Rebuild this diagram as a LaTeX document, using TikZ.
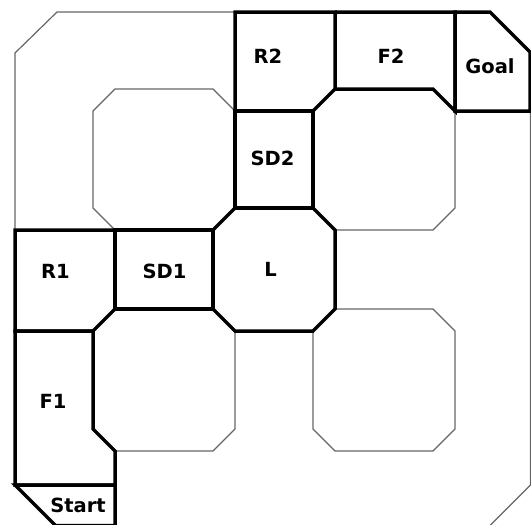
\documentclass[tikz,border=0pt]{standalone}
\usepackage{fontspec}
\setmainfont{DejaVu Sans}
\begin{document}
\begin{tikzpicture}[x=1pt,y=-1pt,
  thinwall/.style={draw=black!60,line width=1.2pt,line join=miter},
  wall/.style={draw=black,line width=3.5pt,line join=miter},
  lbl/.style={font=\fontsize{19.5}{19.5}\selectfont\bfseries,inner sep=0pt,anchor=base}]
\useasboundingbox (0,0) rectangle (531,525);
% outer boundary (thin)
\draw[thinwall] (15,230) -- (15,53) -- (57,12) -- (235,12);
\draw[thinwall] (530.5,111) -- (530.5,485) -- (488.5,527) -- (115,527);
% blocks (thin octagons)
\draw[thinwall] (93,111)--(115,89)--(213,89)--(235,111)--(235,208)--(213,230)--(115,230)--(93,208)--cycle;
\draw[thinwall] (313,111)--(335,89)--(433,89)--(455,111)--(455,208)--(433,230)--(335,230)--(313,208)--cycle;
\draw[thinwall] (93,331)--(115,309)--(213,309)--(235,331)--(235,429)--(213,451)--(115,451)--(93,429)--cycle;
\draw[thinwall] (313,331)--(335,309)--(433,309)--(455,331)--(455,429)--(433,451)--(335,451)--(313,429)--cycle;
% cells (thick)
\draw[wall] (235,12)--(335,12)--(335,89)--(313,111)--(235,111)--cycle;
\draw[wall] (335,12)--(455,12)--(455,111)--(433,89)--(335,89);
\draw[wall] (455,12)--(490,12)--(530,52)--(530,111)--(455,111)--cycle;
\draw[wall] (235,111)--(313,111)--(313,208)--(235,208)--cycle;
\draw[wall] (235,208)--(313,208)--(335,230)--(335,309)--(313,331)--(235,331)--(213,309)--(213,230)--cycle;
\draw[wall] (115,230)--(213,230)--(213,309)--(115,309)--cycle;
\draw[wall] (15,230)--(115,230)--(115,309)--(93,331)--(15,331)--cycle;
\draw[wall] (15,331)--(93,331)--(93,429)--(115,451)--(115,485)--(15,485)--cycle;
\draw[wall] (15,485)--(115,485)--(115,525.5)--(55.5,525.5)--cycle;
% labels
\node[lbl] (r2) at (268,63) {R2};
\node[lbl] (f2) at (391,63) {F2};
\node[lbl] (goal) at (490,73) {Goal};
\node[lbl] (sd2) at (272.5,165) {SD2};
\node[lbl] (l) at (270.5,276) {L};
\node[lbl] (r1) at (55.5,278) {R1};
\node[lbl] (sd1) at (164.5,278) {SD1};
\node[lbl] (f1) at (53,408) {F1};
\node[lbl] (start) at (78,512) {Start};
\end{tikzpicture}
\end{document}
